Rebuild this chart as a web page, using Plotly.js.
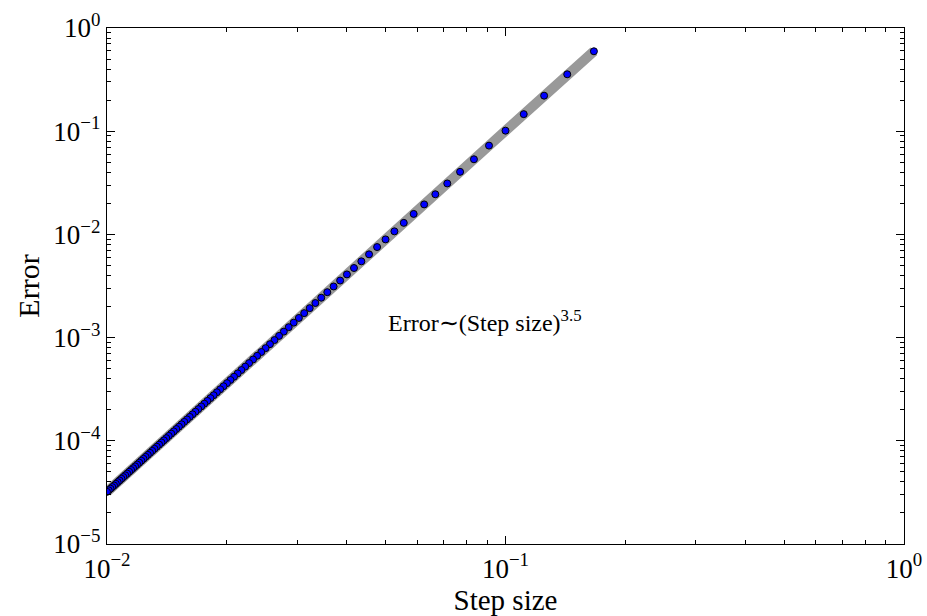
<!DOCTYPE html>
<html>
<head>
<meta charset="utf-8">
<script src="https://cdn.plot.ly/plotly-3.0.1.min.js"></script>
<style>html,body{margin:0;padding:0;background:#fff;}</style>
</head>
<body>
<div id="chart" style="width:927px;height:616px;"></div>
<script>
// Step sizes (x)
const stepSize = [0.16667, 0.14286, 0.125, 0.11111, 0.1, 0.090909, 0.083333, 0.076923, 0.071429, 0.066667,
  0.0625, 0.058824, 0.055556, 0.052632, 0.05, 0.047619, 0.045455, 0.043478, 0.041667, 0.04,
  0.038462, 0.037037, 0.035714, 0.034483, 0.033333, 0.032258, 0.03125, 0.030303, 0.029412, 0.028571,
  0.027778, 0.027027, 0.026316, 0.025641, 0.025, 0.02439, 0.02381, 0.023256, 0.022727, 0.022222,
  0.021739, 0.021277, 0.020833, 0.020408, 0.02, 0.019608, 0.019231, 0.018868, 0.018519, 0.018182,
  0.017857, 0.017544, 0.017241, 0.016949, 0.016667, 0.016393, 0.016129, 0.015873, 0.015625, 0.015385,
  0.015152, 0.014925, 0.014706, 0.014493, 0.014286, 0.014085, 0.013889, 0.013699, 0.013514, 0.013333,
  0.013158, 0.012987, 0.012821, 0.012658, 0.0125, 0.012346, 0.012195, 0.012048, 0.011905, 0.011765,
  0.011628, 0.011494, 0.011364, 0.011236, 0.011111, 0.010989, 0.01087, 0.010753, 0.010638, 0.010526,
  0.010417, 0.010309, 0.010204, 0.010101, 0.01];

// Errors (y)
const errorVals = [0.5950, 0.3560, 0.2210, 0.14632, 0.10119, 0.07249, 0.05346, 0.04040, 0.031168, 0.024481,
  0.019531, 0.015797, 0.012933, 0.010703, 0.008944, 0.007540, 0.006407, 0.005484, 0.004725, 0.004096,
  0.003571, 0.003129, 0.002755, 0.002436, 0.002164, 0.001929, 0.0017263, 0.0015501, 0.0013963, 0.0012616,
  0.0011431, 0.0010386, 0.0009460, 0.0008638, 0.0007906, 0.0007251, 0.0006665, 0.0006138, 0.0005663, 0.0005235,
  0.0004847, 0.0004496, 0.0004176, 0.0003886, 0.0003620, 0.0003378, 0.0003156, 0.0002952, 0.0002765, 0.0002593,
  0.0002435, 0.0002289, 0.0002154, 0.0002028, 0.0001913, 0.0001805, 0.0001705, 0.0001612, 0.0001526, 0.0001445,
  0.0001370, 0.0001300, 0.0001234, 0.0001173, 0.0001115, 0.0001061, 0.0001010, 0.00009628, 0.00009180, 0.00008759,
  0.00008362, 0.00007988, 0.00007635, 0.00007302, 0.00006988, 0.00006690, 0.00006409, 0.00006143, 0.00005891, 0.00005652,
  0.00005425, 0.00005210, 0.00005006, 0.00004812, 0.00004627, 0.00004452, 0.00004284, 0.00004125, 0.00003974, 0.00003829,
  0.00003691, 0.00003560, 0.00003434, 0.00003315, 0.00003200];

const xTickVals = [0.01, 0.1, 1];
const xTickText = ['10<sup>\u22122</sup>', '10<sup>\u22121</sup>', '10<sup>0</sup>'];
const yTickVals = [1e-5, 1e-4, 1e-3, 1e-2, 1e-1, 1];
const yTickText = ['10<sup>\u22125</sup>', '10<sup>\u22124</sup>', '10<sup>\u22123</sup>',
  '10<sup>\u22122</sup>', '10<sup>\u22121</sup>', '10<sup>0</sup>'];
const xMinorVals = [0.02, 0.03, 0.04, 0.05, 0.06, 0.07, 0.08, 0.09,
  0.2, 0.3, 0.4, 0.5, 0.6, 0.7, 0.8, 0.9];
const yMinorVals = [2e-5, 3e-5, 4e-5, 5e-5, 6e-5, 7e-5, 8e-5, 9e-5,
  2e-4, 3e-4, 4e-4, 5e-4, 6e-4, 7e-4, 8e-4, 9e-4,
  2e-3, 3e-3, 4e-3, 5e-3, 6e-3, 7e-3, 8e-3, 9e-3,
  2e-2, 3e-2, 4e-2, 5e-2, 6e-2, 7e-2, 8e-2, 9e-2,
  0.2, 0.3, 0.4, 0.5, 0.6, 0.7, 0.8, 0.9];
const annotationText = 'Error\u223C(Step size)<sup>3.5</sup>';

const FONT = '"Liberation Serif", "Times New Roman", serif';

const traces = [
  {
    x: stepSize, y: errorVals, type: 'scatter', mode: 'lines',
    line: {color: 'rgb(153,153,153)', width: 10},
    hoverinfo: 'skip', showlegend: false
  },
  {
    x: stepSize, y: errorVals, type: 'scatter', mode: 'markers',
    marker: {color: '#0000ff', size: 7, line: {color: '#000', width: 1}},
    showlegend: false
  }
];

const axisCommon = {
  type: 'log',
  showgrid: false, zeroline: false,
  showline: true, linecolor: '#000', linewidth: 1.2, mirror: 'ticks',
  ticks: 'inside', ticklen: 8, tickwidth: 1, tickcolor: '#000',
  tickmode: 'array',
  tickfont: {family: FONT, size: 27, color: '#000'}
};

const layout = {
  width: 927, height: 616,
  margin: {l: 107, r: 23, t: 28, b: 72},
  paper_bgcolor: '#fff', plot_bgcolor: '#fff',
  font: {family: FONT, color: '#000'},
  xaxis: Object.assign({}, axisCommon, {
    range: [-2, 0], tickvals: xTickVals, ticktext: xTickText,
    minor: {tickmode: 'array', tickvals: xMinorVals, ticks: 'inside', ticklen: 4,
      tickcolor: '#000', tickwidth: 1, showgrid: false},
    title: {text: 'Step size', font: {family: FONT, size: 29, color: '#000'}, standoff: 0}
  }),
  yaxis: Object.assign({}, axisCommon, {
    range: [-5, 0], tickvals: yTickVals, ticktext: yTickText,
    minor: {tickmode: 'array', tickvals: yMinorVals, ticks: 'inside', ticklen: 4,
      tickcolor: '#000', tickwidth: 1, showgrid: false},
    title: {text: 'Error', font: {family: FONT, size: 30, color: '#000'}, standoff: 4}
  }),
  annotations: [{
    x: Math.log10(0.05), y: Math.log10(0.001), xref: 'x', yref: 'y',
    text: annotationText, showarrow: false, xanchor: 'left', yanchor: 'bottom',
    font: {family: FONT, size: 24, color: '#000'}
  }]
};

Plotly.newPlot('chart', traces, layout, {displayModeBar: false, staticPlot: true});
</script>
</body>
</html>
